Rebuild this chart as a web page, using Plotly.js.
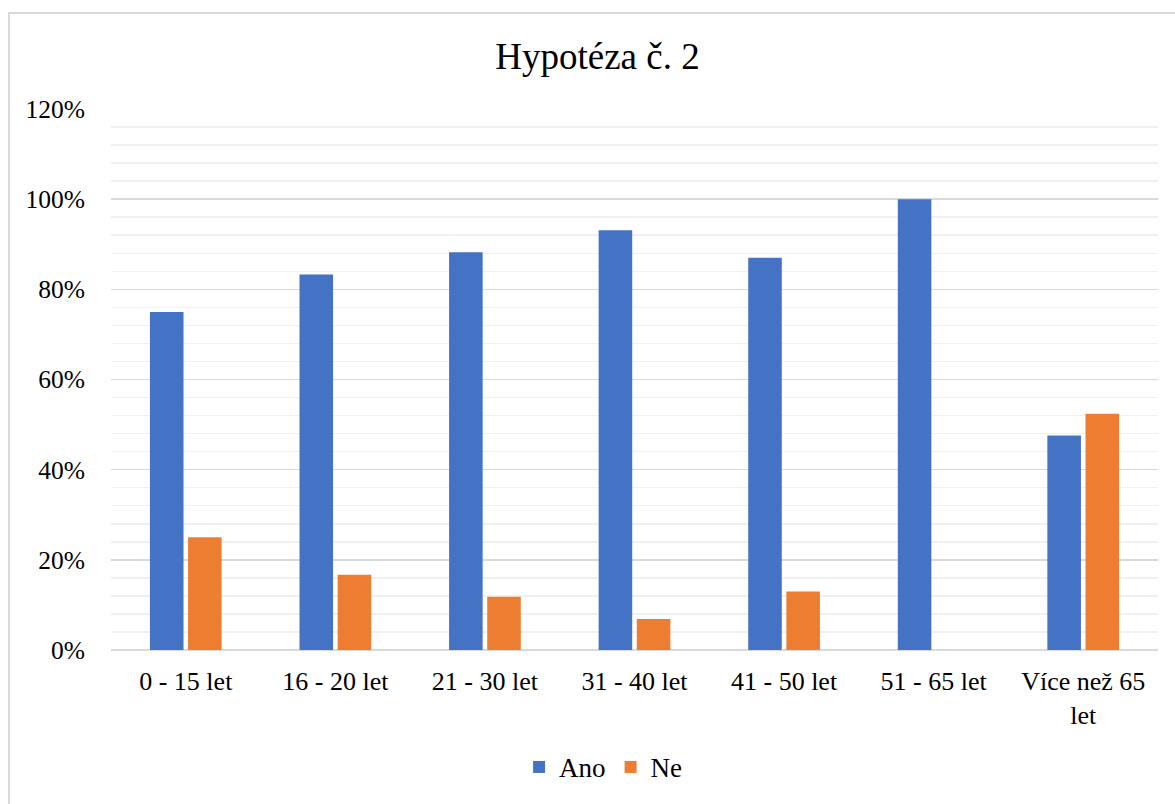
<!DOCTYPE html>
<html>
<head>
<meta charset="utf-8">
<script src="https://cdn.plot.ly/plotly-3.0.1.min.js"></script>
<style>
html,body{margin:0;padding:0;background:#fff;}
#wrap{position:relative;width:1175px;height:804px;overflow:hidden;}
#frame{position:absolute;left:8px;top:12px;width:1200px;height:900px;border-left:2px solid #d9d9d9;border-top:2px solid #d9d9d9;pointer-events:none;z-index:5;}
#chart{position:absolute;left:0;top:0;width:1175px;height:804px;}
</style>
</head>
<body>
<div id="wrap">
<div id="chart"></div>
<div id="frame"></div>
</div>
<script>
const categories = ["0 - 15 let", "16 - 20 let", "21 - 30 let", "31 - 40 let", "41 - 50 let", "51 - 65 let", "Více než 65<br>let"];
const ano = [0.75, 0.833, 0.882, 0.931, 0.87, 1.0, 0.476];
const ne = [0.25, 0.167, 0.118, 0.069, 0.13, 0.0, 0.524];
const yTicks = [0, 0.2, 0.4, 0.6, 0.8, 1.0, 1.2];

const font = 'Liberation Serif';

const traces = [
  {type: 'bar', name: 'Ano', x: categories, y: ano, marker: {color: '#4472C4'}, hoverinfo: 'y'},
  {type: 'bar', name: 'Ne', x: categories, y: ne, marker: {color: '#ED7D31'}, hoverinfo: 'y'}
];

const layout = {
  width: 1175, height: 804,
  margin: {l: 111, r: 17, t: 109, b: 152},
  paper_bgcolor: '#ffffff', plot_bgcolor: '#ffffff',
  font: {family: font, size: 25, color: '#000000'},
  title: {text: 'Hypotéza č. 2', font: {family: font, size: 37, color: '#000000'}, x: 0.5085, xanchor: 'center', y: 0.93, yanchor: 'middle'},
  barmode: 'group',
  bargap: 0.49,
  bargroupgap: 0.12,
  showlegend: true,
  legend: {orientation: 'h', x: 0.47, xanchor: 'center', y: -0.217, yanchor: 'middle', font: {family: font, size: 27}, itemwidth: 30, traceorder: 'normal'},
  xaxis: {
    type: 'category',
    showgrid: false, showline: false, zeroline: false,
    ticks: '', tickfont: {family: font, size: 26, color: '#000'},
    ticklabelstandoff: 13
  },
  yaxis: {
    range: [0, 1.2],
    tickvals: yTicks,
    tickformat: '.0%',
    showgrid: true, gridcolor: '#d9d9d9', gridwidth: 1.5,
    zeroline: true, zerolinecolor: '#d9d9d9', zerolinewidth: 1.5,
    showline: false, ticks: '',
    tickfont: {family: font, size: 25.5, color: '#000'},
    ticklabelstandoff: 25,
    minor: {dtick: 0.04, showgrid: true, gridcolor: '#f0f0f0', gridwidth: 1.5}
  }
};

Plotly.newPlot('chart', traces, layout, {displayModeBar: false, staticPlot: true});
</script>
</body>
</html>
